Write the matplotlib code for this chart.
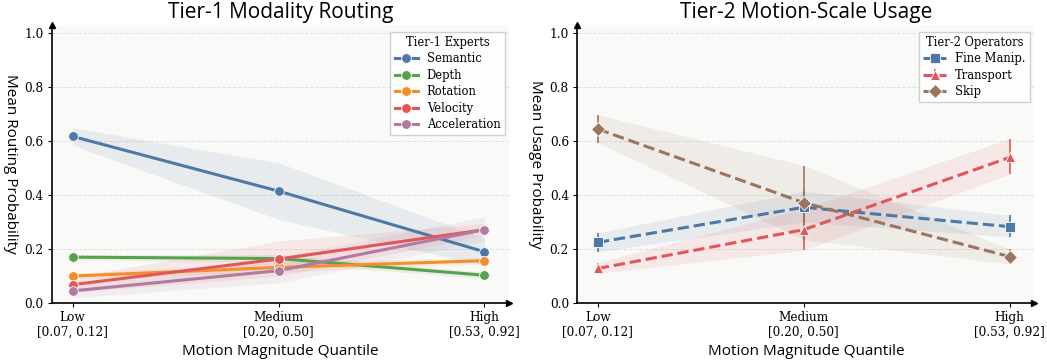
import numpy as np
import matplotlib
matplotlib.use("Agg")
import matplotlib.pyplot as plt

# quantiles
tick_labels = ["Low\n[0.07, 0.12]", "Medium\n[0.20, 0.50]", "High\n[0.53, 0.92]"]

# tier-1 experts: mean, lower, upper
t1_names = ["Semantic", "Depth", "Rotation", "Velocity", "Acceleration"]
t1_mean = [
    [0.618, 0.415, 0.190],
    [0.170, 0.165, 0.103],
    [0.100, 0.132, 0.157],
    [0.068, 0.163, 0.272],
    [0.045, 0.120, 0.272],
]
t1_lo = [
    [0.585, 0.310, 0.140],
    [0.160, 0.150, 0.090],
    [0.090, 0.115, 0.145],
    [0.040, 0.100, 0.250],
    [0.020, 0.075, 0.230],
]
t1_hi = [
    [0.650, 0.520, 0.240],
    [0.180, 0.180, 0.115],
    [0.110, 0.150, 0.170],
    [0.095, 0.230, 0.295],
    [0.070, 0.170, 0.320],
]

# tier-2 operators
t2_names = ["Fine Manip.", "Transport", "Skip"]
t2_mean = [
    [0.225, 0.355, 0.283],
    [0.128, 0.272, 0.540],
    [0.645, 0.372, 0.172],
]
t2_lo = [
    [0.190, 0.300, 0.245],
    [0.110, 0.195, 0.478],
    [0.595, 0.235, 0.145],
]
t2_hi = [
    [0.260, 0.415, 0.325],
    [0.150, 0.350, 0.610],
    [0.698, 0.510, 0.200],
]

c1 = ["#4e79a7", "#59a14f", "#f28e2b", "#e15759", "#b07aa1"]
c2 = ["#4e79a7", "#e15759", "#9c755f"]
mk2 = ["s", "^", "D"]

x = np.arange(3)

fig, axes = plt.subplots(1, 2, figsize=(10.47, 3.62), dpi=100)
plt.subplots_adjust(left=0.0497, right=0.988, top=0.93, bottom=0.163, wspace=0.149)


def style_ax(ax, ylabel, title):
    ax.set_facecolor("#f9f9f7")
    ax.set_xlim(-0.1, 2.12)
    ax.set_ylim(0, 1.03)
    ax.set_xticks(x)
    ax.set_xticklabels(tick_labels, family="DejaVu Serif", fontsize=8.7, linespacing=1.15)
    ax.set_yticks(np.arange(0, 1.01, 0.2))
    ax.set_yticklabels(["%.1f" % v for v in np.arange(0, 1.01, 0.2)], family="DejaVu Serif", fontsize=8.7)
    ax.tick_params(length=3, pad=3)
    ax.grid(axis="y", linestyle="--", color="#e0e0e0", linewidth=0.7)
    ax.set_axisbelow(True)
    for s in ["top", "right"]:
        ax.spines[s].set_visible(False)
    ax.spines["left"].set_linewidth(1.2)
    ax.spines["bottom"].set_linewidth(1.2)
    ax.plot(1, 0, ">k", transform=ax.transAxes, clip_on=False, markersize=5)
    ax.plot(0, 1, "^k", transform=ax.transAxes, clip_on=False, markersize=5)
    ax.set_xlabel("Motion Magnitude Quantile", family="Open Sans", fontsize=11, labelpad=4)
    ax.set_ylabel(ylabel, family="Open Sans", fontsize=11, rotation=270, va="top", labelpad=5)
    ax.set_title(title, family="Open Sans", fontsize=15, pad=5)


def add_legend(ax, title):
    ax.legend(title=title, loc="upper right", bbox_to_anchor=(0.995, 0.985),
              prop={"family": "DejaVu Serif", "size": 8.3},
              title_fontproperties={"family": "DejaVu Serif", "size": 8.3}, fancybox=False,
              framealpha=0.9, edgecolor="#cccccc", handlelength=2.0, borderpad=0.35,
              labelspacing=0.3, handletextpad=0.8, borderaxespad=0.2)


ax = axes[0]
for i in range(5):
    ax.fill_between(x, t1_lo[i], t1_hi[i], color=c1[i], alpha=0.1, linewidth=0)
    ax.plot(x, t1_mean[i], color=c1[i], marker="o", lw=2.2, ms=7,
            markeredgecolor="white", markeredgewidth=0.6, label=t1_names[i])
style_ax(ax, "Mean Routing Probability", "Tier-1 Modality Routing")
add_legend(ax, "Tier-1 Experts")

ax = axes[1]
for i in range(3):
    m = np.array(t2_mean[i])
    ax.fill_between(x, t2_lo[i], t2_hi[i], color=c2[i], alpha=0.1, linewidth=0)
    ax.errorbar(x, m, yerr=[m - np.array(t2_lo[i]), np.array(t2_hi[i]) - m], color=c2[i],
                marker=mk2[i], ls="--", lw=2.2, ms=7.5, elinewidth=1.2, capsize=0,
                markeredgecolor="white", markeredgewidth=0.6, label=t2_names[i])
style_ax(ax, "Mean Usage Probability", "Tier-2 Motion-Scale Usage")
add_legend(ax, "Tier-2 Operators")

fig.savefig("out.png", dpi=100)
